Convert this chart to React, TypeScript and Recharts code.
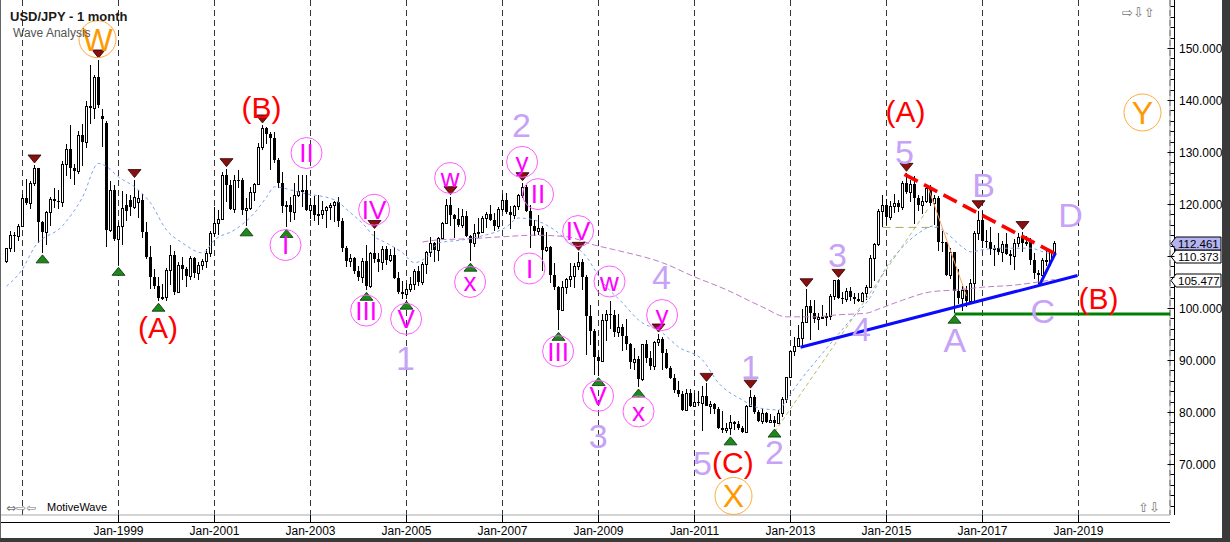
import React from "react";
import {
  ComposedChart,
  Bar,
  Line,
  XAxis,
  YAxis,
  CartesianGrid,
  ReferenceLine,
  ReferenceDot,
} from "recharts";

const FONT = "'Liberation Sans', Arial, sans-serif";

// month index: 0 = Jan-1997, first bar is Sep-1996
const FIRST_MONTH = -4;
const X_MIN = -5.625;
const X_MAX = 286.875;
const Y_MIN = 60.19;
const Y_MAX = 159.23;

const opens = [
  109.0, 111.5, 114.0, 113.8,
  115.8, 121.2, 120.2, 124.0, 126.9, 116.5, 114.6, 118.4, 121.0, 120.6, 120.4, 127.7,
  130.5, 127.0, 126.3, 133.3, 131.9, 138.8, 138.4, 144.4, 137.0, 135.6, 115.0, 122.6,
  113.3, 115.8, 119.8, 120.8, 119.4, 120.4, 120.8, 114.6, 109.8, 106.0, 104.3, 102.0,
  102.2, 107.3, 110.2, 103.1, 108.2, 107.5, 106.1, 109.7, 106.8, 108.3, 109.0, 110.5,
  114.4, 116.4, 117.2, 125.5, 123.6, 119.1, 124.7, 124.6, 118.8, 119.3, 122.4, 123.9,
  131.0, 134.7, 133.5, 132.7, 128.5, 124.0, 119.6, 119.9, 118.5, 121.7, 122.5, 122.6,
  118.8, 119.9, 117.9, 118.1, 118.9, 119.4, 119.8, 120.4, 116.8, 111.5, 109.0, 109.6,
  107.2, 105.9, 109.1, 104.2, 110.5, 109.5, 108.8, 111.4, 109.2, 110.1, 105.8, 103.1,
  102.6, 103.7, 104.6, 107.2, 105.0, 108.4, 110.8, 112.5, 111.1, 113.5, 116.3, 119.8,
  117.9, 117.2, 115.9, 117.7, 113.8, 112.5, 114.4, 114.7, 117.4, 118.1, 116.9, 115.8,
  119.0, 120.7, 118.5, 117.8, 119.6, 121.7, 123.2, 118.6, 115.8, 114.9, 115.4, 111.2,
  111.7, 106.4, 104.0, 99.7, 104.0, 105.5, 106.2, 108.0, 108.8, 106.0, 98.5, 95.5,
  90.6, 89.9, 97.7, 98.9, 98.6, 95.3, 96.4, 94.7, 93.0, 89.7, 90.1, 86.3,
  93.0, 90.3, 88.9, 93.5, 94.0, 91.3, 88.4, 86.5, 84.2, 83.5, 80.4, 83.7,
  81.1, 82.0, 81.8, 83.1, 81.2, 81.5, 80.5, 77.0, 76.6, 77.0, 78.0, 77.6,
  76.9, 76.2, 81.2, 82.8, 80.0, 78.3, 79.8, 78.1, 78.4, 77.9, 79.8, 82.5,
  86.7, 91.7, 92.6, 94.2, 97.4, 100.4, 99.1, 97.9, 98.2, 98.3, 98.4, 102.4,
  105.3, 102.0, 101.8, 103.2, 102.2, 101.8, 101.3, 102.8, 104.1, 109.7, 112.3, 118.6,
  119.8, 117.5, 119.6, 120.1, 119.4, 124.1, 122.4, 123.9, 121.2, 119.9, 120.6, 123.1,
  120.2, 121.1, 112.7, 112.6, 106.3, 110.7, 103.2, 102.0, 103.4, 101.3, 104.8, 114.5,
  117.0, 112.8, 112.7, 111.4, 111.5, 110.8, 112.4, 110.3, 110.0, 112.5, 113.7, 112.5,
  112.7, 109.2, 106.7, 106.3, 109.3, 108.8, 110.8,
];

const highs = [
  111.5, 114.9, 114.6, 116.2,
  122.0, 124.8, 124.5, 127.5, 127.0, 116.8, 118.7, 121.4, 123.1, 122.7, 128.3, 131.6,
  135.2, 127.6, 134.1, 135.3, 139.9, 146.8, 144.9, 147.7, 138.3, 136.0, 124.4, 123.6,
  116.6, 122.5, 122.0, 121.8, 124.7, 122.6, 122.0, 116.5, 111.9, 107.5, 106.0, 104.6,
  107.6, 112.1, 111.0, 108.9, 109.8, 107.9, 110.0, 109.8, 108.8, 109.4, 111.4, 114.9,
  119.4, 118.8, 126.2, 126.8, 124.6, 125.6, 126.5, 125.0, 121.1, 123.2, 124.1, 131.8,
  135.2, 134.9, 133.8, 133.8, 128.9, 126.1, 120.6, 121.3, 124.1, 125.6, 125.6, 125.5,
  121.1, 121.6, 121.7, 120.6, 119.6, 120.2, 120.6, 121.3, 117.4, 111.9, 110.4, 109.8,
  108.0, 109.7, 112.2, 110.7, 114.9, 110.6, 112.0, 111.9, 111.4, 111.8, 106.9, 105.1,
  104.8, 106.0, 107.5, 108.1, 108.8, 111.0, 113.7, 112.7, 113.6, 116.6, 121.0, 121.4,
  118.0, 119.2, 119.0, 118.6, 114.0, 116.1, 117.4, 117.6, 118.4, 119.9, 118.3, 119.4,
  121.9, 122.2, 119.6, 119.9, 122.0, 124.1, 123.6, 119.9, 117.0, 117.9, 115.7, 114.7,
  111.9, 108.6, 104.2, 105.1, 105.8, 108.6, 108.6, 110.7, 109.4, 106.4, 100.5, 95.9,
  91.0, 98.8, 99.7, 101.4, 99.7, 98.9, 96.9, 97.8, 93.3, 92.3, 90.7, 93.1,
  93.8, 91.8, 93.7, 95.0, 94.4, 92.1, 88.9, 87.3, 86.0, 84.0, 84.4, 84.5,
  83.7, 84.0, 85.0, 85.5, 82.2, 81.7, 81.0, 80.2, 77.9, 79.5, 78.2, 78.3,
  77.3, 81.4, 84.2, 83.3, 80.4, 80.6, 80.0, 79.7, 79.2, 80.4, 82.8, 86.8,
  91.8, 94.5, 96.7, 99.9, 103.7, 101.5, 101.5, 99.1, 100.6, 99.0, 102.6, 105.4,
  105.5, 103.0, 103.8, 104.1, 102.8, 102.8, 103.1, 104.5, 110.1, 112.5, 119.0, 121.8,
  121.0, 120.5, 122.0, 120.8, 124.5, 125.9, 124.6, 125.3, 121.8, 121.5, 123.8, 123.7,
  121.7, 121.5, 114.9, 112.7, 111.5, 110.8, 107.5, 104.3, 104.3, 105.5, 114.8, 118.7,
  118.6, 115.0, 115.5, 112.2, 114.4, 112.9, 114.5, 111.1, 113.3, 114.5, 114.7, 113.8,
  113.4, 110.5, 107.3, 109.6, 111.4, 111.0, 112.8,
];

const lows = [
  108.6, 110.8, 110.7, 112.8,
  115.6, 119.9, 119.0, 123.5, 112.5, 110.6, 112.2, 115.7, 119.3, 119.1, 119.5, 125.4,
  124.9, 123.7, 125.8, 127.3, 130.8, 135.4, 136.3, 138.5, 131.0, 111.7, 114.7, 112.9,
  108.2, 112.1, 116.7, 117.6, 119.0, 117.3, 113.5, 109.5, 103.7, 103.7, 101.3, 101.6,
  101.4, 104.5, 102.5, 102.8, 105.3, 104.0, 105.3, 105.7, 105.3, 107.3, 107.6, 109.8,
  113.6, 114.0, 116.9, 120.3, 118.8, 118.2, 123.0, 117.9, 115.8, 118.8, 120.6, 123.7,
  130.4, 131.5, 126.6, 127.9, 123.1, 118.3, 115.5, 116.6, 116.9, 121.3, 119.4, 118.6,
  117.1, 116.8, 115.9, 117.2, 115.4, 116.9, 116.6, 115.6, 110.8, 107.9, 107.9, 106.6,
  105.1, 104.9, 103.4, 103.8, 108.7, 106.9, 107.3, 108.2, 108.8, 105.5, 102.6, 101.8,
  101.7, 103.0, 103.4, 104.2, 104.5, 106.6, 109.9, 108.8, 109.0, 113.3, 116.1, 115.7,
  113.4, 115.5, 115.3, 113.6, 109.0, 111.8, 113.5, 114.5, 115.3, 116.7, 114.9, 115.2,
  118.5, 118.1, 115.2, 117.1, 118.8, 121.1, 118.4, 111.6, 113.8, 114.1, 107.2, 110.8,
  104.9, 103.4, 95.7, 99.6, 102.6, 104.0, 103.8, 107.4, 103.5, 90.9, 92.9, 87.1,
  87.0, 89.7, 93.6, 95.9, 94.5, 94.5, 91.7, 91.9, 88.2, 88.0, 84.8, 86.0,
  89.5, 88.1, 88.1, 92.6, 88.0, 88.2, 86.3, 83.6, 82.9, 80.2, 80.2, 80.9,
  81.0, 81.2, 76.3, 81.1, 79.6, 79.7, 76.8, 75.9, 75.9, 75.6, 76.6, 76.6,
  76.0, 76.1, 80.9, 79.6, 78.0, 77.7, 77.9, 77.9, 77.1, 77.6, 79.1, 81.7,
  86.5, 90.8, 92.5, 92.6, 97.3, 93.8, 97.1, 95.8, 97.8, 96.6, 97.6, 101.6,
  101.8, 100.8, 101.2, 101.4, 100.8, 101.1, 101.1, 101.5, 104.0, 105.2, 111.9, 115.6,
  115.9, 116.9, 118.3, 118.5, 118.9, 121.9, 120.4, 116.2, 118.6, 118.1, 120.2, 119.6,
  116.0, 111.0, 110.7, 106.1, 105.5, 99.0, 100.7, 99.5, 100.1, 101.2, 101.2, 113.1,
  111.6, 111.6, 110.1, 108.1, 110.2, 108.8, 110.2, 108.3, 107.3, 111.7, 110.8, 111.9,
  108.3, 105.6, 104.6, 105.7, 108.1, 108.1, 110.3,
];

const closes = [
  111.5, 114.0, 113.8, 115.8,
  121.2, 120.2, 124.0, 126.9, 116.5, 114.6, 118.4, 121.0, 120.6, 120.4, 127.7, 130.5,
  127.0, 126.3, 133.3, 131.9, 138.8, 138.4, 144.4, 139.0, 136.4, 115.0, 122.7, 113.3,
  115.8, 119.2, 118.6, 119.4, 121.3, 121.2, 114.6, 109.8, 106.0, 104.3, 102.0, 102.2,
  107.3, 110.2, 103.1, 108.2, 107.5, 106.1, 109.7, 106.8, 108.3, 109.0, 110.5, 114.4,
  116.4, 117.2, 125.5, 123.6, 119.1, 124.7, 124.6, 118.8, 119.3, 122.4, 123.9, 131.0,
  134.7, 133.5, 132.7, 128.5, 124.0, 119.6, 119.9, 118.5, 121.7, 122.5, 122.6, 118.8,
  119.9, 117.9, 118.1, 118.9, 119.4, 119.8, 120.4, 116.8, 111.5, 109.0, 109.6, 107.2,
  105.9, 109.1, 104.2, 110.5, 109.5, 108.8, 111.4, 109.2, 110.1, 105.8, 103.1, 102.6,
  103.7, 104.6, 107.2, 105.0, 108.4, 110.8, 112.5, 111.1, 113.5, 116.3, 119.8, 117.9,
  117.2, 115.9, 117.7, 113.8, 112.5, 114.4, 114.7, 117.4, 118.1, 116.9, 115.8, 119.0,
  120.7, 118.5, 117.8, 119.6, 121.7, 123.2, 118.6, 115.8, 114.9, 115.4, 111.2, 111.7,
  106.4, 104.0, 99.7, 104.0, 105.5, 106.2, 108.0, 108.8, 106.0, 98.5, 95.5, 90.6,
  89.9, 97.7, 98.9, 98.6, 95.3, 96.4, 94.7, 93.0, 89.7, 90.1, 86.3, 93.0,
  90.3, 88.9, 93.5, 94.0, 91.3, 88.4, 86.5, 84.2, 83.5, 80.4, 83.7, 81.1,
  82.0, 81.8, 83.1, 81.2, 81.5, 80.5, 77.0, 76.6, 77.0, 78.0, 77.6, 76.9,
  76.2, 81.2, 82.8, 80.0, 78.3, 79.8, 78.1, 78.4, 77.9, 79.8, 82.5, 86.7,
  91.7, 92.6, 94.2, 97.4, 100.4, 99.1, 97.9, 98.2, 98.3, 98.4, 102.4, 105.3,
  102.0, 101.8, 103.2, 102.2, 101.8, 101.3, 102.8, 104.1, 109.7, 112.3, 118.6, 119.8,
  117.5, 119.6, 120.1, 119.4, 124.1, 122.4, 123.9, 121.2, 119.9, 120.6, 123.1, 120.2,
  121.1, 112.7, 112.6, 106.3, 110.7, 103.2, 102.0, 103.4, 101.3, 104.8, 114.5, 117.0,
  112.8, 112.7, 111.4, 111.5, 110.8, 112.4, 110.3, 110.0, 112.5, 113.7, 112.5, 112.7,
  109.2, 106.7, 106.3, 109.3, 108.8, 110.7, 112.46,
];

// swing markers (month index)
const pivotHighs = [3, 19, 28, 51, 60, 88, 107, 125, 139, 159, 171, 182, 196, 204, 221, 239, 250];
const pivotLows = [5, 24, 34, 56, 66, 86, 96, 112, 134, 144, 154, 177, 188, 233];

// moving averages: [month, price]
const blueMa: [number, number][] = [
  [-4, 104.2], [0, 107.5], [3, 111.7], [10, 115.8], [15, 121.3], [19, 127.8], [21, 127.2],
  [24, 125.2], [28, 123.3], [32, 120.2], [36, 115.0], [40, 112.5], [45, 110.6], [48, 113.1],
  [53, 115.0], [58, 118.3], [61, 121.3], [63, 123.3], [65, 123.1], [68, 122.5], [70, 122.1],
  [78, 120.8], [82, 118.3], [85, 116.3], [88, 113.7], [91, 112.5], [95, 110.6], [98, 108.7],
  [101, 109.8], [104, 112.5], [110, 113.1], [114, 113.7], [121, 115.6], [124, 117.3],
  [128, 116.9], [133, 115.0], [136, 113.1], [141, 109.8], [145, 105.0], [150, 101.0],
  [154, 97.7], [160, 95.2], [164, 92.5], [170, 90.0], [174, 85.6], [180, 82.3], [184, 80.8],
  [189, 80.4], [191, 82.3], [194, 85.6], [200, 91.3], [207, 97.7], [212, 102.1], [216, 107.9],
  [220, 111.7], [224, 114.4], [228, 115.8], [231, 114.4], [235, 111.7], [237, 110.8],
  [240, 111.2], [244, 111.5], [248, 111.5], [252, 111.5], [256, 110.6], [258, 110.37],
];

const purpleMa: [number, number][] = [
  [100, 112.7], [104, 113.1], [111, 113.3], [120, 113.7], [128, 114.0], [136, 113.7],
  [143, 112.1], [148, 111.2], [160, 108.7], [168, 106.0], [176, 103.5], [185, 100.2],
  [191, 98.3], [198, 98.3], [204, 98.7], [211, 99.0], [214, 99.8], [220, 101.5],
  [227, 103.1], [234, 103.5], [240, 104.0], [248, 104.4], [254, 105.0], [258, 105.48],
];

const yearTicks = [0, 24, 48, 72, 96, 120, 144, 168, 192, 216, 240, 264];
const priceTicks = [
  62, 64, 66, 68, 70, 72, 74, 76, 78, 80, 82, 84, 86, 88, 90, 92, 94, 96, 98, 100,
  102, 104, 106, 108, 110, 112, 114, 116, 118, 120, 122, 124, 126, 128, 130, 132, 134,
  136, 138, 140, 142, 144, 146, 148, 150, 152, 154, 156, 158,
];
// axis label hidden under the last-price markers
const coveredPriceLabels = [110];

// wave labels placed at [month, price]
const redWaves = [
  { i: 33.9, p: 96.25, t: "(A)" },
  { i: 59.75, p: 138.6, t: "(B)" },
  { i: 177.6, p: 70.4, t: "(C)" },
  { i: 220.75, p: 137.9, t: "(A)" },
  { i: 269.0, p: 101.9, t: "(B)" },
];

const lavenderWaves = [
  { i: 95.75, p: 90.4, t: "1" },
  { i: 124.75, p: 135.3, t: "2" },
  { i: 143.9, p: 75.5, t: "3" },
  { i: 159.75, p: 106.1, t: "4" },
  { i: 170.0, p: 70.3, t: "5" },
  { i: 182.0, p: 88.75, t: "1" },
  { i: 188.0, p: 72.4, t: "2" },
  { i: 203.75, p: 110.2, t: "3" },
  { i: 209.75, p: 96.1, t: "4" },
  { i: 220.5, p: 130.1, t: "5" },
  { i: 233.1, p: 93.9, t: "A" },
  { i: 240.25, p: 123.65, t: "B" },
  { i: 255.1, p: 99.5, t: "C" },
  { i: 262.0, p: 117.9, t: "D" },
];

const pinkWaves = [
  { i: 65.75, p: 112.1, t: "I" },
  { i: 71.0, p: 129.8, t: "II" },
  { i: 85.9, p: 99.5, t: "III" },
  { i: 87.9, p: 118.9, t: "IV" },
  { i: 95.9, p: 97.9, t: "V" },
  { i: 106.9, p: 125.0, t: "w" },
  { i: 111.9, p: 105.0, t: "x" },
  { i: 124.9, p: 128.1, t: "y" },
  { i: 126.75, p: 107.6, t: "I" },
  { i: 128.9, p: 121.9, t: "II" },
  { i: 133.9, p: 91.7, t: "III" },
  { i: 138.9, p: 114.8, t: "IV" },
  { i: 143.9, p: 83.1, t: "V" },
  { i: 146.75, p: 105.1, t: "w" },
  { i: 154.0, p: 80.1, t: "x" },
  { i: 159.9, p: 98.65, t: "y" },
];

const orangeWaves = [
  { i: 18.75, p: 151.7, t: "W" },
  { i: 177.75, p: 63.85, t: "X" },
  { i: 280.0, p: 137.6, t: "Y" },
];

const rows: any[] = closes.map((c, k) => {
  const i = FIRST_MONTH + k;
  return {
    i,
    o: opens[k],
    h: highs[k],
    l: lows[k],
    c,
    ph: pivotHighs.includes(i),
    pl: pivotLows.includes(i),
  };
});
blueMa.forEach(([i, v]) => {
  rows[i - FIRST_MONTH].mb = v;
});
purpleMa.forEach(([i, v]) => {
  rows[i - FIRST_MONTH].mp = v;
});

function Candle(props: any) {
  const { x, y, width, height, payload } = props;
  if (!payload || height == null || isNaN(y)) return <g />;
  const { o, h, l, c } = payload;
  const cx = Math.floor(x + width / 2) + 0.5;
  const py = (v: number) => y + ((h - v) / (h - l)) * height;
  const top = Math.round(py(Math.max(o, c)));
  const bottom = Math.round(py(Math.min(o, c)));
  return (
    <g>
      <line
        x1={cx}
        x2={cx}
        y1={Math.round(py(h))}
        y2={Math.round(py(l))}
        stroke="#000"
        strokeWidth={1}
      />
      {c >= o ? (
        <rect
          x={cx - 1}
          y={top + 0.5}
          width={2}
          height={Math.max(bottom - top, 1)}
          fill="#fff"
          stroke="#000"
          strokeWidth={1}
        />
      ) : (
        <rect
          x={cx - 1.5}
          y={top}
          width={3}
          height={Math.max(bottom - top, 1)}
          fill="#000"
        />
      )}
    </g>
  );
}

function HighMarker(props: any) {
  const { cx, cy, payload, index } = props;
  if (!payload || !payload.ph) return <g key={`h${index}`} />;
  return (
    <polygon
      key={`h${index}`}
      points={`${cx - 6.5},${cy - 10} ${cx + 6.5},${cy - 10} ${cx},${cy - 2}`}
      fill="#8a1010"
      stroke="#2a0000"
      strokeWidth={0.8}
    />
  );
}

function LowMarker(props: any) {
  const { cx, cy, payload, index } = props;
  if (!payload || !payload.pl) return <g key={`l${index}`} />;
  return (
    <polygon
      key={`l${index}`}
      points={`${cx - 6.5},${cy + 10} ${cx + 6.5},${cy + 10} ${cx},${cy + 2}`}
      fill="#1b8a1b"
      stroke="#063006"
      strokeWidth={0.8}
    />
  );
}

function XTick(props: any) {
  const { x, y, payload } = props;
  if (payload.value === 0) return <g />;
  const year = 1997 + payload.value / 12;
  return (
    <g>
      <line x1={x} x2={x} y1={y} y2={y + 7} stroke="#000" />
      <text x={x} y={y + 20} textAnchor="middle" fontSize={12} fontFamily={FONT} fill="#000">
        {`Jan-${year}`}
      </text>
    </g>
  );
}

function YTick(props: any) {
  const { x, y, payload } = props;
  const v = payload.value;
  const major = v % 10 === 0;
  const yy = Math.round(y) + 0.5;
  return (
    <g>
      <line x1={x + 4.5 - (major ? 7 : 4)} x2={x + 4.5} y1={yy} y2={yy} stroke="#000" />
      {major && !coveredPriceLabels.includes(v) && (
        <text x={x + 9} y={yy + 4} fontSize={12} fontFamily={FONT} fill="#000">
          {v.toFixed(3)}
        </text>
      )}
    </g>
  );
}

const waveText = (t: string, color: string, size: number) => (props: any) => (
  <text
    x={props.cx}
    y={props.cy + size * 0.36}
    textAnchor="middle"
    fontSize={size}
    fontFamily={FONT}
    fill={color}
  >
    {t}
  </text>
);

const circledText = (t: string, color: string, ring: string, size: number, r: number) => (props: any) => (
  <g>
    <circle cx={props.cx} cy={props.cy} r={r} fill="none" stroke={ring} strokeWidth={1} />
    <text
      x={props.cx}
      y={props.cy + size * 0.36}
      textAnchor="middle"
      fontSize={size}
      fontFamily={FONT}
      fill={color}
    >
      {t}
    </text>
  </g>
);

const priceBox = (label: string, fill: string, dy: number) => (props: any) => {
  const cx = props.cx;
  const cy = Math.round(props.cy + dy) + 0.5;
  return (
    <g>
      <polygon
        points={`${cx + 1},${cy} ${cx + 6},${cy - 6.5} ${cx + 51},${cy - 6.5} ${cx + 51},${cy + 6.5} ${cx + 6},${cy + 6.5}`}
        fill={fill}
        stroke="#000"
        strokeWidth={1}
      />
      <text x={cx + 8} y={cy + 4.5} fontSize={11.5} fontFamily={FONT} fill="#000">
        {label}
      </text>
    </g>
  );
};

export default function App() {
  return (
    <div
      style={{
        position: "absolute",
        left: 0,
        top: 0,
        width: 1230,
        height: 542,
        background: "#3a3a3a",
        overflow: "hidden",
      }}
    >
      <div
        style={{
          position: "absolute",
          left: 0,
          top: 0,
          width: 1222,
          height: 538,
          background: "#fff",
        }}
      >
        <ComposedChart
          width={1222}
          height={538}
          data={rows}
          margin={{ top: 0, right: 0, bottom: 0, left: 0 }}
        >
          <CartesianGrid
            horizontal={false}
            stroke="#333"
            strokeDasharray="6 4"
          />
          <XAxis
            dataKey="i"
            type="number"
            domain={[X_MIN, X_MAX]}
            allowDataOverflow
            ticks={yearTicks}
            interval={0}
            height={23}
            tickSize={0}
            tickMargin={0}
            tickLine={false}
            tick={<XTick />}
            axisLine={{ stroke: "#000", transform: "translate(0,7.5)" }}
          />
          <YAxis
            orientation="right"
            type="number"
            domain={[Y_MIN, Y_MAX]}
            allowDataOverflow
            ticks={priceTicks}
            interval={0}
            width={52}
            tickSize={0}
            tickMargin={0}
            tickLine={false}
            tick={<YTick />}
            axisLine={{ stroke: "#000", transform: "translate(4.5,0)" }}
          />
          <ReferenceLine y={Y_MIN} stroke="#a8a8a8" ifOverflow="visible" />
          <ReferenceLine x={X_MAX} stroke="#a8a8a8" ifOverflow="visible" />

          {/* fib helper lines */}
          <ReferenceLine
            segment={[{ x: 188, y: 76.15 }, { x: 226.5, y: 119.2 }]}
            stroke="#b8b870"
            strokeDasharray="4 3"
            ifOverflow="visible"
          />
          <ReferenceLine
            segment={[{ x: 215, y: 115.5 }, { x: 228.75, y: 115.5 }]}
            stroke="#a8a860"
            strokeDasharray="8 5"
            ifOverflow="visible"
          />
          <ReferenceLine
            segment={[{ x: 226.25, y: 123.5 }, { x: 236, y: 102.3 }]}
            stroke="#ffa060"
            ifOverflow="visible"
          />

          <Bar
            dataKey={(d: any) => [d.l, d.h]}
            barSize={3}
            shape={<Candle />}
            isAnimationActive={false}
          />
          <Line
            dataKey="mb"
            type="monotone"
            connectNulls
            stroke="#7aa2f0"
            strokeWidth={1}
            strokeDasharray="3 3"
            dot={false}
            activeDot={false}
            isAnimationActive={false}
          />
          <Line
            dataKey="mp"
            type="monotone"
            connectNulls
            stroke="#c07cc8"
            strokeWidth={1}
            strokeDasharray="6 3"
            dot={false}
            activeDot={false}
            isAnimationActive={false}
          />

          {/* trend lines */}
          <ReferenceLine
            segment={[{ x: 194.5, y: 92.44 }, { x: 263.75, y: 106.25 }]}
            stroke="#0a0aff"
            strokeWidth={3}
            ifOverflow="visible"
          />
          <ReferenceLine
            segment={[{ x: 254.25, y: 104.4 }, { x: 258.25, y: 110.6 }]}
            stroke="#0a0aff"
            strokeWidth={3}
            ifOverflow="visible"
          />
          <ReferenceLine
            segment={[{ x: 220.5, y: 125.7 }, { x: 258.0, y: 110.5 }]}
            stroke="#ff0000"
            strokeWidth={3.5}
            strokeDasharray="15 7"
            ifOverflow="visible"
          />
          <ReferenceLine
            segment={[{ x: 233, y: 98.85 }, { x: X_MAX, y: 98.85 }]}
            stroke="#008000"
            strokeWidth={3}
            ifOverflow="visible"
          />

          <Line
            dataKey="h"
            stroke="none"
            dot={HighMarker}
            activeDot={false}
            isAnimationActive={false}
            legendType="none"
          />
          <Line
            dataKey="l"
            stroke="none"
            dot={LowMarker}
            activeDot={false}
            isAnimationActive={false}
            legendType="none"
          />

          {redWaves.map((w, k) => (
            <ReferenceDot
              key={`r${k}`}
              x={w.i}
              y={w.p}
              r={0}
              ifOverflow="visible"
              shape={waveText(w.t, "#ff0000", 30)}
            />
          ))}
          {lavenderWaves.map((w, k) => (
            <ReferenceDot
              key={`v${k}`}
              x={w.i}
              y={w.p}
              r={0}
              ifOverflow="visible"
              shape={waveText(w.t, "#c6a3f7", 34)}
            />
          ))}
          {pinkWaves.map((w, k) => (
            <ReferenceDot
              key={`p${k}`}
              x={w.i}
              y={w.p}
              r={0}
              ifOverflow="visible"
              shape={circledText(w.t, "#ff00ff", "#ff5cff", 26, 15.5)}
            />
          ))}
          {orangeWaves.map((w, k) => (
            <ReferenceDot
              key={`o${k}`}
              x={w.i}
              y={w.p}
              r={0}
              ifOverflow="visible"
              shape={circledText(w.t, "#ff9900", "#ffaa3a", 32, 18.5)}
            />
          ))}

          <ReferenceDot
            x={X_MAX}
            y={105.477}
            r={0}
            ifOverflow="visible"
            shape={priceBox("105.477", "#ffffff", 0)}
          />
          <ReferenceDot
            x={X_MAX}
            y={110.373}
            r={0}
            ifOverflow="visible"
            shape={priceBox("110.373", "#ffffff", 2)}
          />
          <ReferenceDot
            x={X_MAX}
            y={112.461}
            r={0}
            ifOverflow="visible"
            shape={priceBox("112.461", "#b4b4f2", 0)}
          />
        </ComposedChart>
      </div>
      <svg
        width={1230}
        height={542}
        style={{ position: "absolute", left: 0, top: 0, pointerEvents: "none" }}
      >
        <line x1={0.5} x2={0.5} y1={0} y2={538} stroke="#666" />
        <text x={10} y={21} fontSize={13} fontWeight="bold" fontFamily={FONT} fill="#1a1a1a">
          USD/JPY - 1 month
        </text>
        <text x={13} y={37} fontSize={12} fontFamily={FONT} fill="#555">
          Wave Analysis
        </text>
        <text x={6} y={512} fontSize={12} fontFamily="'DejaVu Sans'" fill="#777">
          ⇔⇨⇦
        </text>
        <text x={47} y={511} fontSize={11} fontFamily={FONT} fill="#000">
          MotiveWave
        </text>
        <text x={1122} y={17} fontSize={13} fontFamily="'DejaVu Sans'" fill="#777">
          ⇨⇩⇧
        </text>
        <text x={1138} y={512} fontSize={13} fontFamily="'DejaVu Sans'" fill="#777">
          ⇧⇩
        </text>
      </svg>
    </div>
  );
}
